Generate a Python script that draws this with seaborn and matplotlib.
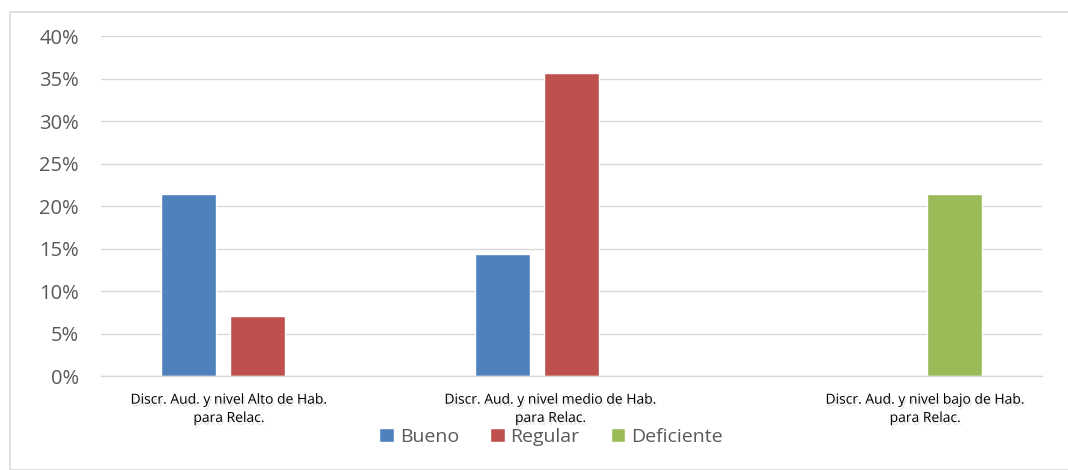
import pandas as pd
import seaborn as sns
import matplotlib.pyplot as plt
import matplotlib.transforms as mtransforms
import matplotlib.patheffects as pe
from matplotlib.patches import Rectangle
from matplotlib.ticker import PercentFormatter

# data (share of respondents)
categorias = ["Discr. Aud. y nivel Alto de Hab.\npara Relac.",
              "Discr. Aud. y nivel medio de Hab.\npara Relac.",
              "Discr. Aud. y nivel bajo de Hab.\npara Relac."]
series = ["Bueno", "Regular", "Deficiente"]
bueno = [21.4, 14.3, 0.0]
regular = [7.1, 35.7, 0.0]
deficiente = [0.0, 0.0, 21.4]
colores = ["#4F81BD", "#C0504D", "#9BBB59"]

df = pd.DataFrame({
    "Categoria": categorias * 3,
    "Serie": [s for s in series for _ in categorias],
    "Valor": bueno + regular + deficiente,
})

sns.set_style("white")
plt.rcParams["font.family"] = ["Open Sans", "DejaVu Sans"]

fig = plt.figure(figsize=(10.68, 4.70), dpi=100)
ax = fig.add_axes([0.0946, 0.2, 0.881, 0.7234])

sns.barplot(data=df, x="Categoria", y="Valor", hue="Serie", palette=colores,
            width=0.66, gap=0.2, saturation=1, ax=ax, legend=True)

ax.set_ylim(0, 40)
ax.set_yticks(range(0, 41, 5))
ax.yaxis.set_major_formatter(PercentFormatter(decimals=0))
ax.grid(axis="y", color="#D9D9D9", linewidth=1)
ax.set_axisbelow(True)
for s in ["top", "right", "left"]:
    ax.spines[s].set_visible(False)
ax.spines["bottom"].set_color("#D9D9D9")
ax.spines["bottom"].set_linewidth(1)
ax.set_xlabel("")
ax.set_ylabel("")
ax.tick_params(axis="y", length=0, pad=16, labelsize=14.5, labelcolor="#595959")
ax.tick_params(axis="x", length=0, pad=12, labelsize=10, labelcolor="#000000")

# the category labels are not exactly centred in the original
offsets = [-29, -21, 40]
for lbl, dx in zip(ax.get_xticklabels(), offsets):
    lbl.set_transform(lbl.get_transform() +
                      mtransforms.ScaledTranslation(dx / 100, 0, fig.dpi_scale_trans))
    lbl.set_linespacing(1.3)
    lbl.set_path_effects([pe.withSimplePatchShadow(offset=(1, -2), shadow_rgbFace="#888888",
                                                   alpha=0.25)])

ax.legend_.remove()
handles, labels = ax.get_legend_handles_labels()
fig.legend(handles, labels, loc="center", bbox_to_anchor=(0.516, 0.07), ncol=3,
           frameon=False, fontsize=14, handlelength=0.75, handleheight=0.75,
           handletextpad=0.3, columnspacing=1.6, labelcolor="#595959")

fig.patches.append(Rectangle((10 / 1068, 0), 1.0, 1 - 12 / 470, transform=fig.transFigure,
                             fill=False, edgecolor="#D9D9D9", linewidth=1.2))

fig.savefig("out.png", dpi=100)
